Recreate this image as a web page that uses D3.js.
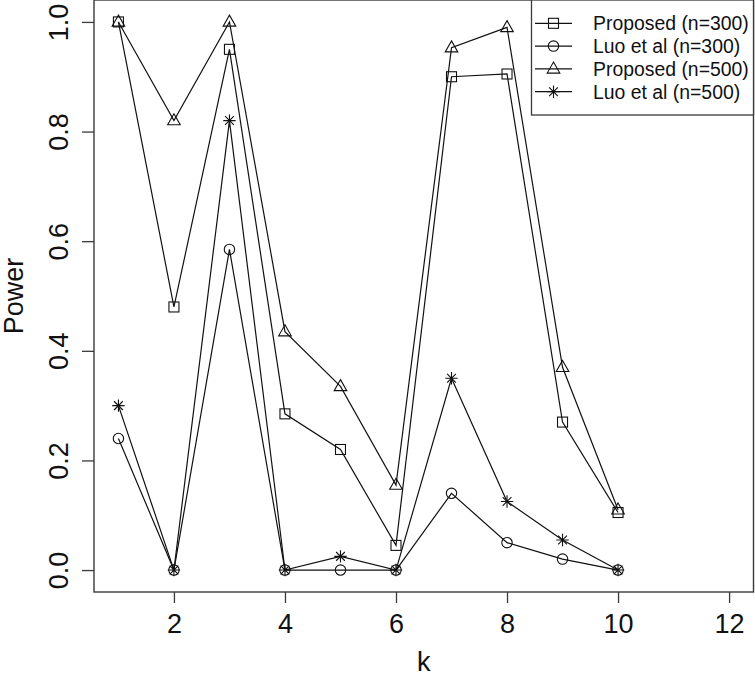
<!DOCTYPE html>
<html>
<head>
<meta charset="utf-8">
<script src="https://cdn.jsdelivr.net/npm/d3@7"></script>
<style>
    html, body { margin: 0; padding: 0; background: #fff; }
    svg { display: block; }
    text { font-family: "Liberation Sans", Arial, Helvetica, sans-serif; fill: #111; }
</style>
</head>
<body>
<div id="container"></div>
<script>
// values
const kValues = [1, 2, 3, 4, 5, 6, 7, 8, 9, 10];
const proposed300 = [1.0, 0.48, 0.95, 0.285, 0.22, 0.045, 0.90, 0.905, 0.27, 0.105];
const luo300 = [0.24, 0, 0.585, 0, 0, 0, 0.14, 0.05, 0.02, 0];
const proposed500 = [1.0, 0.82, 1.0, 0.435, 0.335, 0.155, 0.953, 0.99, 0.37, 0.11];
const luo500 = [0.30, 0, 0.82, 0, 0.025, 0, 0.35, 0.125, 0.055, 0];

const seriesNames = ["Proposed (n=300)", "Luo et al (n=300)", "Proposed (n=500)", "Luo et al (n=500)"];
const seriesShapes = ["square", "circle", "triangle", "star"];
const xTicks = [2, 4, 6, 8, 10, 12];
const yTicks = [0, 0.2, 0.4, 0.6, 0.8, 1.0];

const W = 755, H = 679;
const box = {left: 94, right: 753.5, top: 0, bottom: 592};

// R pads the limits by 4%: xlim c(1,12), ylim c(0,1)
const x = d3.scaleLinear().domain([0.56, 12.44]).range([box.left, box.right]);
const y = d3.scaleLinear().domain([-0.04, 1.04]).range([box.bottom, box.top]);

const svg = d3.select("#container").append("svg")
    .attr("width", W)
    .attr("height", H);

const axisCol = "#3a3a3a";

// plot frame
svg.append("rect")
    .attr("x", box.left)
    .attr("y", box.top)
    .attr("width", box.right - box.left)
    .attr("height", box.bottom - box.top)
    .attr("fill", "none")
    .attr("stroke", axisCol)
    .attr("stroke-width", 1.4);

// x axis
const xAxis = svg.append("g")
    .attr("transform", `translate(0,${box.bottom})`)
    .call(d3.axisBottom(x).tickValues(xTicks).tickSize(11).tickSizeOuter(0).tickFormat(d3.format("d")));
xAxis.select(".domain").remove();
xAxis.selectAll(".tick line").attr("stroke", axisCol).attr("stroke-width", 1.3);
xAxis.selectAll(".tick text")
    .attr("y", 41)
    .attr("dy", 0)
    .attr("font-size", 27)
    .attr("fill", "#111")
    .attr("font-family", "Liberation Sans, Arial, sans-serif");

// y axis, labels turned like R's las=0
const yAxis = svg.append("g")
    .attr("transform", `translate(${box.left},0)`)
    .call(d3.axisLeft(y).tickValues(yTicks).tickSize(12).tickSizeOuter(0).tickFormat(d3.format(".1f")));
yAxis.select(".domain").remove();
yAxis.selectAll(".tick line").attr("stroke", axisCol).attr("stroke-width", 1.3);
yAxis.selectAll(".tick text")
    .attr("x", null)
    .attr("dy", 0)
    .attr("transform", "translate(-26,0) rotate(-90)")
    .attr("text-anchor", "middle")
    .attr("font-size", 27)
    .attr("fill", "#111")
    .attr("font-family", "Liberation Sans, Arial, sans-serif");

// axis titles
svg.append("text")
    .attr("x", (box.left + box.right) / 2)
    .attr("y", 671)
    .attr("text-anchor", "middle")
    .attr("font-size", 27)
    .text("k");

svg.append("text")
    .attr("transform", `translate(23,${(box.top + box.bottom) / 2}) rotate(-90)`)
    .attr("text-anchor", "middle")
    .attr("font-size", 27)
    .text("Power");

// point symbols in the spirit of R pch 0, 1, 2, 8
function drawSymbol(g, shape, cx, cy) {
    const s = g.append("g").attr("transform", `translate(${cx},${cy})`)
        .attr("fill", "none").attr("stroke", "#111").attr("stroke-width", 1.1);
    if (shape === "square") {
        s.append("rect").attr("x", -5).attr("y", -5).attr("width", 10).attr("height", 10);
    } else if (shape === "circle") {
        s.append("circle").attr("r", 5.2);
    } else if (shape === "triangle") {
        s.append("path").attr("d", "M0,-6.8 L6.3,4.2 L-6.3,4.2 Z");
    } else {
        const r = 6.2, d = r * Math.SQRT1_2;
        s.append("path").attr("d",
            `M${-r},0 L${r},0 M0,${-r} L0,${r} M${-d},${-d} L${d},${d} M${-d},${d} L${d},${-d}`);
    }
}

const seriesValues = [proposed300, luo300, proposed500, luo500];
const line = d3.line().x(d => x(d[0])).y(d => y(d[1]));
const plot = svg.append("g");

seriesValues.forEach((vals, i) => {
    const pts = kValues.map((k, j) => [k, vals[j]]);
    plot.append("path")
        .datum(pts)
        .attr("d", line)
        .attr("fill", "none")
        .attr("stroke", "#111")
        .attr("stroke-width", 1.2);
    pts.forEach(p => drawSymbol(plot, seriesShapes[i], x(p[0]), y(p[1])));
});

// legend, top right, sharing the frame corner
const legend = svg.append("g");
legend.append("rect")
    .attr("x", 531.5)
    .attr("y", box.top)
    .attr("width", box.right - 531.5)
    .attr("height", 115)
    .attr("fill", "#fff")
    .attr("stroke", axisCol)
    .attr("stroke-width", 1.3);

seriesNames.forEach((name, i) => {
    const ry = 23.3 + i * 22.8;
    legend.append("line")
        .attr("x1", 535).attr("x2", 572)
        .attr("y1", ry).attr("y2", ry)
        .attr("stroke", "#111")
        .attr("stroke-width", 1.2);
    drawSymbol(legend, seriesShapes[i], 553.5, ry);
    legend.append("text")
        .attr("x", 593)
        .attr("y", ry + 6.8)
        .attr("font-size", 19.4)
        .text(name);
});
</script>
</body>
</html>
